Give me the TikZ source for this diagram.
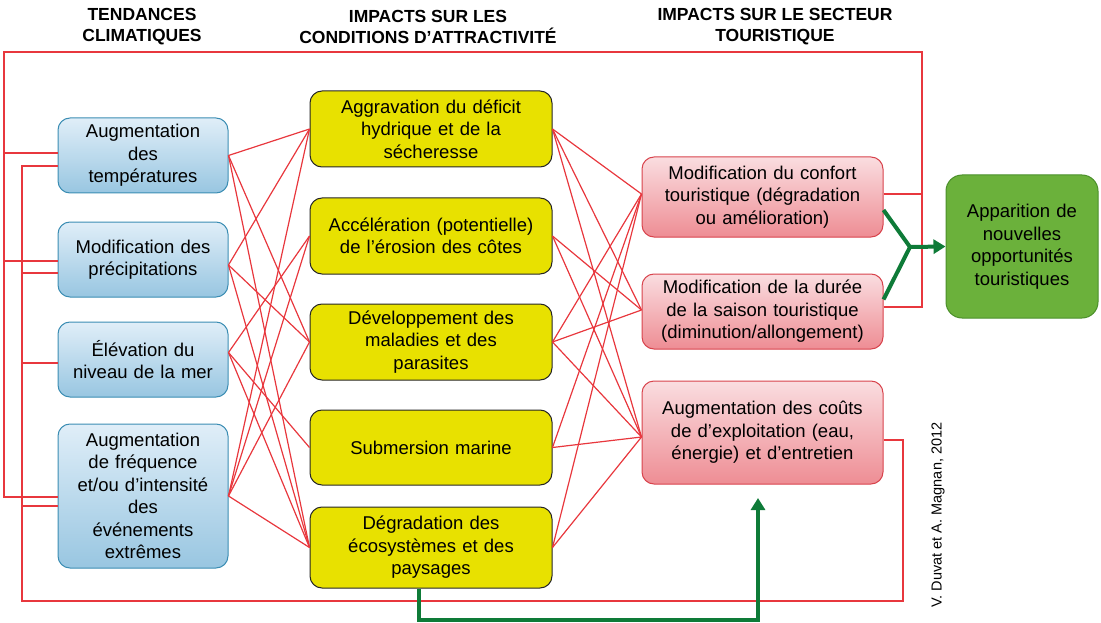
\documentclass[tikz,border=0pt]{standalone}
\usepackage{fontspec}
\setmainfont{Liberation Sans}
\usetikzlibrary{arrows.meta,calc}
\definecolor{redl}{HTML}{E8373D}
\definecolor{bluebd}{HTML}{3B8DB3}
\definecolor{bluet}{HTML}{E0EEF8}
\definecolor{blueb}{HTML}{98C6E1}
\definecolor{yel}{HTML}{E8E100}
\definecolor{pinkbd}{HTML}{D8434C}
\definecolor{pinkt}{HTML}{FADDE0}
\definecolor{pinkb}{HTML}{EE8D94}
\definecolor{grfill}{HTML}{6BB13B}
\definecolor{grbd}{HTML}{4B8F2A}
\definecolor{garr}{HTML}{0E7B38}
\begin{document}
\begin{tikzpicture}[x=1pt,y=-1pt,
  font=\fontsize{18.5}{22.5}\selectfont,
  box/.style={rounded corners=12pt, align=center, inner xsep=2pt, inner ysep=0pt},
  lbox/.style={box, draw=bluebd, line width=1pt, top color=bluet, bottom color=blueb, minimum width=170pt, text width=166pt},
  mbox/.style={box, draw=black!85, line width=1pt, fill=yel, minimum width=242pt, text width=238pt},
  rbox/.style={box, draw=pinkbd, line width=1pt, top color=pinkt, bottom color=pinkb, minimum width=241pt, text width=237pt},
  gbox/.style={box, rounded corners=16pt, draw=grbd, line width=1pt, fill=grfill, minimum width=152pt, text width=148pt},
  hdr/.style={align=center, font=\fontsize{17.5}{21}\selectfont\bfseries},
  rl/.style={draw=redl, line width=1.2pt},
  gl/.style={draw=garr, line width=4pt},
  ga/.style={gl, -{Triangle[length=12pt,width=14pt]}}
]
\useasboundingbox (0,0) rectangle (1101,623);

% headers
\node[hdr] (h1) at (142,27) {TENDANCES\\CLIMATIQUES};
\node[hdr] (h2) at (428,27) {IMPACTS SUR LES\\CONDITIONS D’ATTRACTIVITÉ};
\node[hdr] (h3) at (775,27) {IMPACTS SUR LE SECTEUR\\TOURISTIQUE};

% left column
\node[lbox, minimum height=75pt] (L1) at (143,155.5) {Augmentation\\des\\températures};
\node[lbox, minimum height=75pt] (L2) at (143,259.5) {Modification des\\précipitations};
\node[lbox, minimum height=75pt] (L3) at (143,359.5) {Élévation du\\niveau de la mer};
\node[lbox, minimum height=144pt] (L4) at (143,496) {Augmentation\\de fréquence\\et/ou d’intensité\\des\\événements\\extrêmes};

% middle column
\node[mbox, minimum height=76pt] (M1) at (431,129) {Aggravation du déficit\\hydrique et de la\\sécheresse};
\node[mbox, minimum height=76pt] (M2) at (431,236) {Accélération (potentielle)\\de l’érosion des côtes};
\node[mbox, minimum height=76pt] (M3) at (431,342) {Développement des\\maladies et des\\parasites};
\node[mbox, minimum height=75pt] (M4) at (431,447.5) {Submersion marine};
\node[mbox, minimum height=81pt] (M5) at (431,547.5) {Dégradation des\\écosystèmes et des\\paysages};

% right column
\node[rbox, minimum height=80pt] (R1) at (762.5,197) {Modification du confort\\touristique (dégradation\\ou amélioration)};
\node[rbox, minimum height=75pt] (R2) at (762.5,311.5) {Modification de la durée\\de la saison touristique\\(diminution/allongement)};
\node[rbox, minimum height=103pt] (R3) at (762.5,432.5) {Augmentation des coûts\\de d’exploitation (eau,\\énergie) et d’entretien};

% green box
\node[gbox, minimum height=143pt] (G) at (1022,246.5) {Apparition de\\nouvelles\\opportunités\\touristiques};

% credit
\node[rotate=90, font=\fontsize{14.5}{17}\selectfont] (cr) at (938,515) {V. Duvat et A. Magnan, 2012};

% attachment points
\coordinate (L1p) at (L1.east);
\coordinate (L2p) at ($(L2.east)+(0,5.5)$);
\coordinate (L3p) at ($(L3.east)+(0,-7)$);
\coordinate (L4p) at (L4.east);
\coordinate (R1p) at ($(R1.west)+(0,-3)$);
\coordinate (R2p) at ($(R2.west)+(0,-1.5)$);
\coordinate (R3p) at ($(R3.west)+(0,4.5)$);

% left -> middle
\foreach \a/\b in {L1/M1,L1/M3,L1/M5,L2/M1,L2/M3,L2/M5,L3/M2,L3/M4,L3/M5,L4/M1,L4/M2,L4/M3,L4/M5}
  \draw[rl] (\a p) -- (\b.west);
% middle -> right
\foreach \a/\b in {M1/R1,M1/R2,M1/R3,M2/R2,M2/R3,M3/R1,M3/R2,M3/R3,M4/R1,M4/R3,M5/R1,M5/R3}
  \draw[rl] (\a.east) -- (\b p);

% feedback loops
\coordinate (tl) at (4,52);
\coordinate (tr) at (922,52);
\coordinate (bl) at (22,601);
\coordinate (br) at (903,601);
\draw[rl] ($(R1.east)+(0,-3)$) -| (tr) -- (tl) |- ($(L1.west)+(0,-2.5)$);
\draw[rl] ($(R2.east)+(0,-4.5)$) -| (tr);
\draw[rl] (tl) |- ($(L2.west)+(0,1.5)$);
\draw[rl] (tl) |- ($(L4.west)+(0,1)$);
\draw[rl] ($(R3.east)+(0,7.5)$) -| (br) -- (bl) |- ($(L1.west)+(0,10.5)$);
\draw[rl] (bl) |- ($(L2.west)+(0,13.5)$);
\draw[rl] (bl) |- ($(L3.west)+(0,3.5)$);
\draw[rl] (bl) |- ($(L4.west)+(0,10)$);

% green arrows
\coordinate (J) at (910,247);
\draw[gl] ($(R1.east)+(0,13)$) -- (J);
\draw[gl] ($(R2.east)+(0,-12)$) -- (J);
\draw[ga] (J) -- (G.west);
\coordinate (gtip) at (758,498);
\draw[ga] ($(M5.south)+(-12,0)$) -- ++(0,31) -| (gtip);
\end{tikzpicture}
\end{document}
